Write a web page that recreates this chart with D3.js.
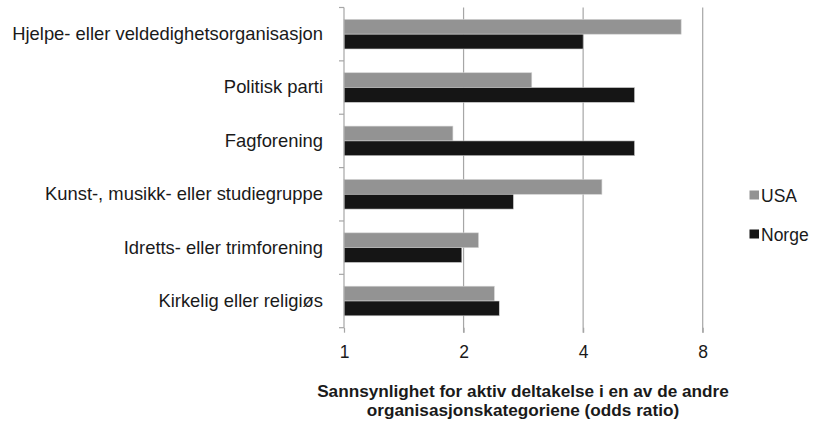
<!DOCTYPE html>
<html><head><meta charset="utf-8">
<script src="https://cdn.jsdelivr.net/npm/d3@7"></script>
<style>body{margin:0;background:#fff;}svg{display:block;font-family:"Liberation Sans",Arial,sans-serif;}</style>
</head><body>
<svg id="c" width="814" height="424"></svg>
<script>
const categories = ["Hjelpe- eller veldedighetsorganisasjon","Politisk parti","Fagforening","Kunst-, musikk- eller studiegruppe","Idretts- eller trimforening","Kirkelig eller religiøs"];
const usaValues = [7.06, 2.97, 1.88, 4.46, 2.18, 2.39];
const norgeValues = [4.0, 5.39, 5.39, 2.67, 1.98, 2.46];
const seriesNames = ["USA","Norge"];
const tickValues = [1,2,4,8];
const axisTitle = ["Sannsynlighet for aktiv deltakelse i en av de andre","organisasjonskategoriene (odds ratio)"];

(function(){
const colors = {USA:"#939393", Norge:"#151515"};
const svg = d3.select("#c");
const pL = 344, pR = 702.7, pT = 7.5, pB = 327.7;
const x = d3.scaleLog().base(2).domain([1,8]).range([pL,pR]);
const y = d3.scaleBand().domain(categories).range([pT,pB]);
const fam = "Liberation Sans, Arial, sans-serif";

// gridlines
svg.append("g").selectAll("line").data(tickValues.slice(1)).join("line")
  .attr("x1",d=>x(d)).attr("x2",d=>x(d)).attr("y1",pT).attr("y2",pB+5)
  .attr("stroke","#a6a6a6").attr("stroke-width",1.2);

// bars
const barH = 14.8;
const bw = y.bandwidth();
const off = (bw - 2*barH)/2;
const data = [];
categories.forEach((c,i)=>{
  data.push({c, s:"USA", v:usaValues[i], k:0});
  data.push({c, s:"Norge", v:norgeValues[i], k:1});
});
svg.append("g").selectAll("rect").data(data).join("rect")
  .attr("x",x(1)).attr("y",d=>y(d.c)+off+d.k*barH)
  .attr("width",d=>x(d.v)-x(1)).attr("height",barH)
  .attr("fill",d=>colors[d.s]).attr("stroke","#d0d0d0").attr("stroke-width",0.6);

// left axis
const yAxis = d3.axisLeft(y).tickSize(0).tickPadding(21);
const gy = svg.append("g").attr("transform",`translate(${pL},0)`).call(yAxis);
gy.select(".domain").attr("stroke","#a6a6a6").attr("stroke-width",1.2).attr("d",`M0,${pT}V${pB}`);
gy.selectAll("text").attr("font-size",18.4).attr("fill","#1a1a1a").attr("font-family",fam);
// category boundary ticks
const bounds = d3.range(categories.length+1).map(i=>pT+i*bw);
svg.append("g").selectAll("line").data(bounds).join("line")
  .attr("x1",pL-5).attr("x2",pL).attr("y1",d=>d).attr("y2",d=>d)
  .attr("stroke","#a6a6a6").attr("stroke-width",1.2);

// bottom axis labels
const xAxis = d3.axisBottom(x).tickValues(tickValues).tickFormat(d3.format("d")).tickSize(5).tickPadding(13);
const gx = svg.append("g").attr("transform",`translate(0,${pB})`).call(xAxis);
gx.select(".domain").remove();
gx.selectAll("line").attr("stroke","#a6a6a6").attr("stroke-width",1.2);
gx.selectAll("text").attr("font-size",17.5).attr("fill","#1a1a1a").attr("font-family",fam);

// axis title
svg.append("g").selectAll("text").data(axisTitle).join("text")
  .attr("x",523).attr("y",(d,i)=>396.5+i*19).attr("text-anchor","middle")
  .attr("font-size",17.2).attr("font-weight","bold").attr("fill","#1a1a1a").text(d=>d);

// legend
const lg = svg.append("g").selectAll("g").data(seriesNames).join("g")
  .attr("transform",(d,i)=>`translate(749.5,${190.5+i*39})`);
lg.append("rect").attr("width",9.5).attr("height",9).attr("fill",d=>colors[d]);
lg.append("text").attr("x",11.5).attr("y",11.8).attr("font-size",17.5).attr("fill","#1a1a1a").text(d=>d);
})();
</script>
</body></html>
